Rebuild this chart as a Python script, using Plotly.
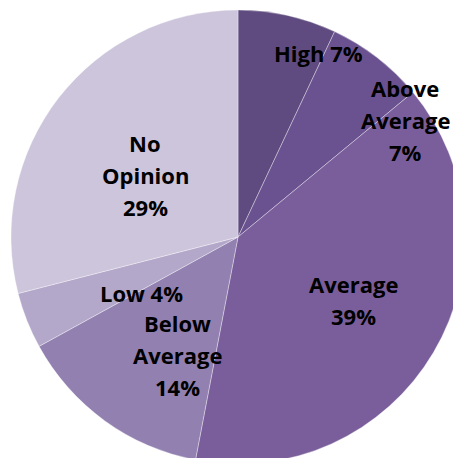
import plotly.graph_objects as go

labels = ["High", "Above Average", "Average", "Below Average", "Low", "No Opinion"]
values = [7, 7, 39, 14, 4, 29]
label_lines = [["High 7%"], ["Above", "Average", "7%"], ["Average", "39%"],
               ["Below", "Average", "14%"], ["Low 4%"], ["No", "Opinion", "29%"]]

colors = ["#5f4b7f", "#6a5290", "#7a5e9b", "#9180b0", "#b3a7ca", "#cdc5db"]

# label block centres in window pixels (styling)
label_px = [(318, 53), (405, 120), (353, 300), (177, 355), (141, 293), (145, 175)]

W, H = 476, 474
ML, MT, MR, MB = 11, 10, 11, 10
PW, PH = W - ML - MR, H - MT - MB
LINE = 32
FS = 22

fig = go.Figure(go.Pie(
    labels=labels, values=values, sort=False, direction="clockwise", rotation=0,
    marker=dict(colors=colors, line=dict(color="rgba(255,255,255,0.35)", width=1)),
    textinfo="none", hoverinfo="label+percent", showlegend=False,
))

anns = []
for lines, (cx, cy) in zip(label_lines, label_px):
    n = len(lines)
    for i, t in enumerate(lines):
        py = cy + (i - (n - 1) / 2) * LINE
        anns.append(dict(
            x=(cx - ML) / PW, y=1 - (py - MT) / PH, xref="paper", yref="paper",
            text="<b>%s</b>" % t, showarrow=False, xanchor="center", yanchor="middle",
            font=dict(family="Open Sans", size=FS, color="black"),
        ))

fig.update_layout(
    width=W, height=H, margin=dict(l=ML, r=MR, t=MT, b=MB, autoexpand=False),
    paper_bgcolor="white", plot_bgcolor="white", annotations=anns,
)

fig.write_html("out.html", post_script="document.body.style.overflow='hidden';document.body.style.margin='0';")
